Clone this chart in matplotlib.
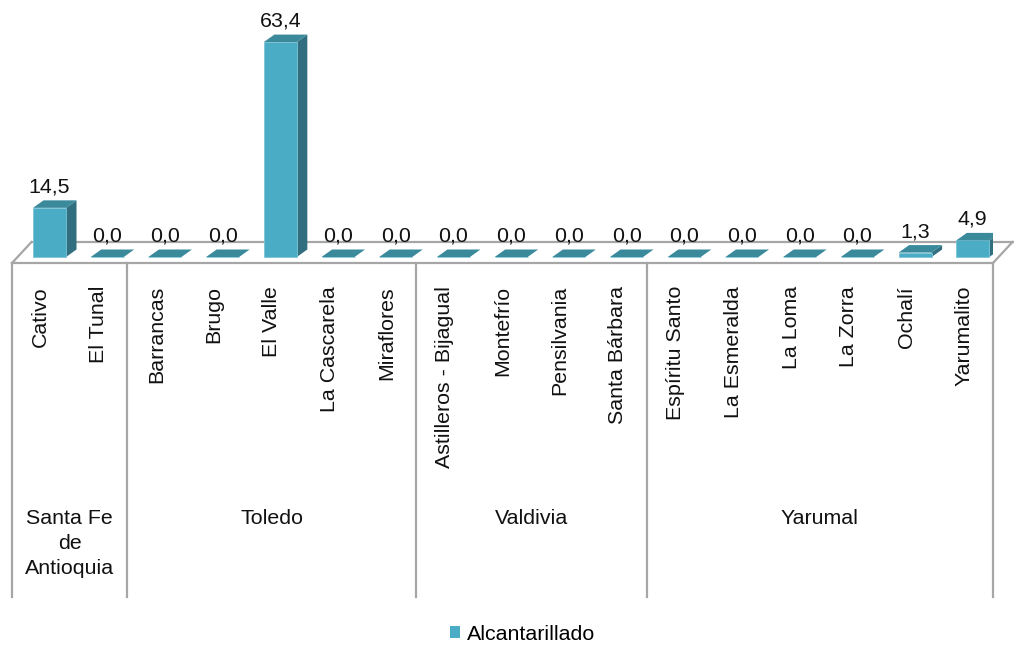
import matplotlib
matplotlib.use('Agg')
import matplotlib.pyplot as plt
from matplotlib.patches import Polygon, Patch

plt.rcParams['font.family'] = ['Liberation Sans', 'DejaVu Sans']

# data
localidades = ['Cativo', 'El Tunal', 'Barrancas', 'Brugo', 'El Valle', 'La Cascarela',
               'Miraflores', 'Astilleros - Bijagual', 'Montefrío', 'Pensilvania',
               'Santa Bárbara', 'Espíritu Santo', 'La Esmeralda', 'La Loma', 'La Zorra',
               'Ochalí', 'Yarumalito']
alcantarillado = [14.5, 0.0, 0.0, 0.0, 63.4, 0.0, 0.0, 0.0, 0.0, 0.0, 0.0,
                  0.0, 0.0, 0.0, 0.0, 1.3, 4.9]
municipios = ['Santa Fe\nde\nAntioquia', 'Toledo', 'Valdivia', 'Yarumal']
n_por_municipio = [2, 5, 4, 6]

# look
c_front = '#4bacc6'
c_side = '#316f80'
c_top = '#3a8a9c'
c_line = '#a6a6a6'
fs = 15.4

# pixel geometry -> data units
px_y = 3.39      # px per value unit
px_x = 57.7      # px per category
ddx = 10.5 / px_x
ddy = 7.5 / px_y
bar_l, bar_w = 0.364, 0.572
floor_front = -6 / px_y
floor_back = 15 / px_y
floor_dx = 19.5 / px_x
box_bottom = (257 - 597) / px_y

fig = plt.figure(figsize=(10.14, 6.46), dpi=100)
ax = fig.add_axes([12 / 1014, 49 / 646, 981 / 1014, 597 / 646])
ax.set_xlim(0, len(localidades))
ax.set_ylim(box_bottom, 257 / px_y)
ax.axis('off')

n = len(localidades)
# floor
ax.plot([floor_dx, n + floor_dx], [floor_back, floor_back], color=c_line, lw=1.6, clip_on=False, zorder=1)
ax.plot([0, n], [floor_front, floor_front], color=c_line, lw=1.6, clip_on=False, zorder=1)
ax.plot([0, floor_dx], [floor_front, floor_back], color=c_line, lw=1.6, clip_on=False, zorder=1)
ax.plot([n, n + floor_dx], [floor_front, floor_back], color=c_line, lw=1.6, clip_on=False, zorder=1)

# bars
for i, v in enumerate(alcantarillado):
    x0 = i + bar_l
    x1 = x0 + bar_w
    front = Polygon([(x0, 0), (x1, 0), (x1, v), (x0, v)], closed=True,
                    facecolor=c_front, edgecolor='#7cc4d6', lw=0.6, zorder=3)
    side = Polygon([(x1, 0), (x1 + ddx, ddy), (x1 + ddx, v + ddy), (x1, v)], closed=True,
                   facecolor=c_side, edgecolor='none', zorder=2)
    top = Polygon([(x0, v), (x1, v), (x1 + ddx, v + ddy), (x0 + ddx, v + ddy)], closed=True,
                  facecolor=c_top, edgecolor='none', zorder=3)
    for p in (side, front, top):
        ax.add_patch(p)
    ax.text(x0 + bar_w / 2, v + ddy + 8 / px_y, f'{v:.1f}'.replace('.', ','),
            ha='center', va='baseline', fontsize=fs, color='#111111', zorder=4)
    ax.text(i + 0.5, -29 / px_y, localidades[i], rotation=90, ha='center', va='top',
            fontsize=fs, color='#111111')

# group boxes
bounds = [0]
for k in n_por_municipio:
    bounds.append(bounds[-1] + k)
for b in bounds:
    ax.plot([b, b], [floor_front, box_bottom], color=c_line, lw=1.6, clip_on=False)
for j, m in enumerate(municipios):
    ax.text((bounds[j] + bounds[j + 1]) / 2, (257 - 509) / px_y, m, ha='center', va='top',
            fontsize=fs, color='#111111', linespacing=1.4)

fig.legend(handles=[Patch(facecolor=c_front, edgecolor='none', label='Alcantarillado')],
           loc='center', bbox_to_anchor=(523 / 1014, 1 - 634 / 646), frameon=False,
           fontsize=fs, handlelength=0.45, handleheight=0.45, handletextpad=0.35)

fig.savefig('out.png', dpi=100)
